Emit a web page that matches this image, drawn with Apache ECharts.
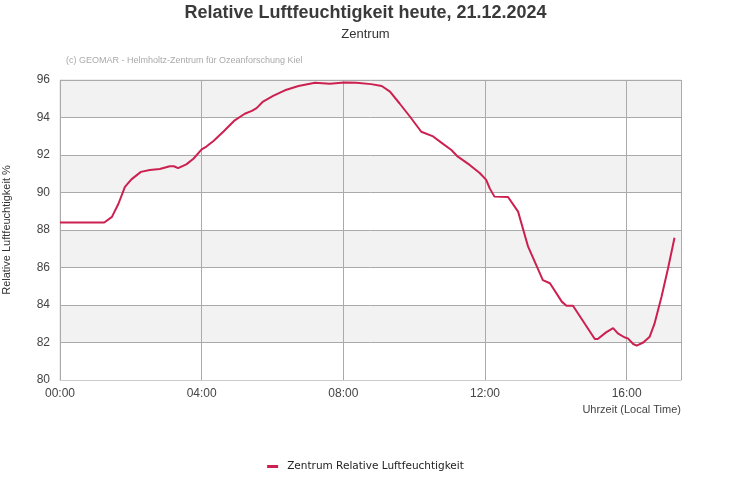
<!DOCTYPE html>
<html><head><meta charset="utf-8">
<script src="https://cdn.jsdelivr.net/npm/echarts@6/dist/echarts.min.js"></script>
<style>html,body{margin:0;padding:0;background:#fff}#c{width:731px;height:500px}</style>
</head><body><div id="c"></div>
<script>
var times = ["00:00","01:15","01:28","01:39","01:50","02:01","02:17","02:32","02:49","03:06","03:13","03:20","03:34","03:46","04:00","04:08","04:20","04:37","04:56","05:13","05:25","05:33","05:44","06:01","06:21","06:44","07:12","07:37","08:02","08:22","08:47","09:05","09:19","09:35","09:53","10:12","10:31","10:46","11:03","11:14","11:34","11:51","12:02","12:08","12:16","12:39","12:56","13:13","13:38","13:50","14:10","14:18","14:29","15:06","15:11","15:25","15:37","15:45","15:56","16:02","16:11","16:17","16:28","16:39","16:47","16:59","17:10","17:21"];
var humidity = [88.4,88.4,88.7,89.4,90.3,90.7,91.1,91.2,91.25,91.4,91.4,91.3,91.5,91.8,92.3,92.45,92.75,93.25,93.85,94.2,94.35,94.5,94.85,95.15,95.45,95.68,95.85,95.8,95.87,95.85,95.78,95.68,95.38,94.76,94.04,93.24,93.01,92.66,92.27,91.91,91.47,91.04,90.67,90.22,89.78,89.76,88.98,87.11,85.33,85.16,84.18,83.96,83.96,82.19,82.19,82.54,82.77,82.49,82.28,82.22,81.92,81.83,82.0,82.31,82.99,84.44,85.95,87.59];
var yTicks = [80,82,84,86,88,90,92,94,96];
var xTickLabels = ["00:00","04:00","08:00","12:00","16:00"];
var seriesName = "Zentrum Relative Luftfeuchtigkeit";

function toMin(t){var p=t.split(":");return (+p[0])*60+(+p[1]);}
function fmt(m){var h=Math.floor(m/60),mm=Math.round(m%60);return (h<10?"0":"")+h+":"+(mm<10?"0":"")+mm;}
var data = times.map(function(t,i){return [toMin(t),humidity[i]];});

var chart = echarts.init(document.getElementById('c'));
chart.setOption({
  animation:false,
  backgroundColor:'#fff',
  title:[
    {text:'Relative Luftfeuchtigkeit heute, 21.12.2024',left:'center',top:-1,
     textStyle:{fontFamily:'Liberation Sans',fontSize:18,fontWeight:'bold',color:'#3a3a3a'}},
    {text:'Zentrum',left:'center',top:23,textStyle:{fontFamily:'Liberation Sans',fontSize:13,fontWeight:'normal',color:'#333'}},
    {text:'(c) GEOMAR - Helmholtz-Zentrum für Ozeanforschung Kiel',left:61,top:51,
     textStyle:{fontFamily:'Liberation Sans',fontSize:9,fontWeight:'normal',color:'#aaa'}}
  ],
  legend:{bottom:23,left:'center',icon:'rect',itemWidth:11,itemHeight:3,itemGap:10,
    textStyle:{fontFamily:'DejaVu Sans',fontSize:10.5,color:'#222',padding:[0,0,0,4]},data:[seriesName]},
  grid:{left:60,right:50,top:80,bottom:120,show:true,borderColor:'#ddd',borderWidth:1,containLabel:false,outerBoundsMode:'none'},
  xAxis:{type:'value',min:0,max:1052,interval:240,
    axisLine:{show:true,lineStyle:{color:'#ccc'}},axisTick:{show:false},
    axisLabel:{formatter:function(v){return fmt(v);},fontFamily:'Liberation Sans',fontSize:12,color:'#444',margin:8,showMaxLabel:false},
    splitLine:{show:true,lineStyle:{color:'#aaa',width:1}},
    name:'Uhrzeit (Local Time)',nameLocation:'end',nameGap:0,
    nameTextStyle:{fontFamily:'Liberation Sans',fontSize:11,color:'#444',align:'right',verticalAlign:'top',padding:[24,0,0,0]}},
  yAxis:{type:'value',min:80,max:96,interval:2,
    axisLine:{show:false},axisTick:{show:false},
    axisLabel:{fontFamily:'Liberation Sans',fontSize:12,color:'#444',margin:10},
    splitLine:{show:true,lineStyle:{color:'#aaa',width:1}},
    splitArea:{show:true,areaStyle:{color:['#ffffff','#f2f2f2']}},
    name:'Relative Luftfeuchtigkeit %',nameLocation:'middle',nameGap:48,nameRotate:90,
    nameTextStyle:{fontFamily:'Liberation Sans',fontSize:11,color:'#333'}},
  series:[{name:seriesName,type:'line',data:data,showSymbol:false,symbol:'none',
    lineStyle:{color:'#cc2050',width:2},itemStyle:{color:'#cc2050'}}]
});
</script></body></html>
